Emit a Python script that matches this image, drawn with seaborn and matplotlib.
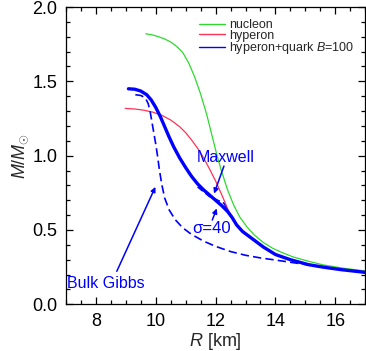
import numpy as np
import pandas as pd
import matplotlib
matplotlib.use("Agg")
import matplotlib.pyplot as plt
import seaborn as sns

sns.set_theme(style="ticks")
plt.rcParams["font.family"] = ["Liberation Sans", "DejaVu Sans"]
plt.rcParams["mathtext.fontset"] = "custom"
plt.rcParams["mathtext.it"] = "Liberation Sans:italic"
plt.rcParams["mathtext.rm"] = "Liberation Sans"

# nucleon (green)
nuc_r = [9.67, 9.9, 10.1, 10.3, 10.5, 10.7, 10.9, 11.1, 11.3, 11.5, 11.7, 11.9, 12.05, 12.2,
         12.4, 12.6, 12.8, 13.05, 13.3, 13.6, 13.9, 14.2, 14.6, 15.1, 15.6, 16.2, 17.0]
nuc_m = [1.820, 1.812, 1.800, 1.785, 1.765, 1.735, 1.695, 1.625, 1.530, 1.415, 1.280, 1.120, 1.000, 0.895,
         0.770, 0.670, 0.590, 0.520, 0.465, 0.415, 0.378, 0.350, 0.318, 0.290, 0.265, 0.245, 0.224]

# hyperon (red)
hyp_r = [8.98, 9.3, 9.6, 9.9, 10.2, 10.5, 10.8, 11.0, 11.2, 11.4, 11.6, 11.8, 12.0, 12.2, 12.4,
         12.55, 12.7, 12.9, 13.2, 13.6, 14.0, 14.5, 15.1, 15.6, 16.2, 17.0]
hyp_m = [1.318, 1.314, 1.306, 1.293, 1.272, 1.240, 1.195, 1.155, 1.105, 1.050, 0.985, 0.910, 0.830, 0.740, 0.645,
         0.580, 0.535, 0.490, 0.445, 0.385, 0.335, 0.300, 0.267, 0.250, 0.233, 0.215]

# hyperon+quark, sigma=40 (thick blue)
hq_r = [9.09, 9.3, 9.5, 9.7, 9.85, 10.0, 10.15, 10.3, 10.45, 10.6, 10.8, 11.0, 11.2, 11.4, 11.6,
        11.8, 12.0, 12.2, 12.4, 12.55, 12.7, 12.9, 13.2, 13.6, 14.0, 14.5, 15.1, 15.6, 16.2, 17.0]
hq_m = [1.450, 1.447, 1.435, 1.410, 1.375, 1.325, 1.265, 1.195, 1.125, 1.060, 0.985, 0.920, 0.860, 0.810, 0.770,
        0.735, 0.700, 0.665, 0.625, 0.585, 0.535, 0.490, 0.445, 0.385, 0.335, 0.300, 0.267, 0.250, 0.233, 0.215]

# bulk Gibbs (dashed blue)
gibbs_r = [9.32, 9.5, 9.65, 9.75, 9.82, 9.88, 9.94, 10.0, 10.06, 10.12, 10.2, 10.3, 10.45, 10.65,
           10.9, 11.2, 11.6, 12.0, 12.5, 13.0, 13.5, 14.0, 14.5, 15.0, 15.5]
gibbs_m = [1.410, 1.405, 1.390, 1.350, 1.290, 1.220, 1.150, 1.080, 1.000, 0.910, 0.810, 0.715, 0.635, 0.570,
           0.515, 0.470, 0.425, 0.390, 0.355, 0.330, 0.312, 0.298, 0.283, 0.268, 0.252]

# Maxwell (dashed part, then thin solid part)
maxd_r = [11.4, 11.8, 12.28]
maxd_m = [0.79, 0.725, 0.68]
maxs_r = [12.28, 12.5]
maxs_m = [0.68, 0.59]

GREEN = "#2fd82f"
RED = "#ff3355"
BLUE = "#0000ff"

fig, ax = plt.subplots(figsize=(3.66, 3.51), dpi=100)
fig.subplots_adjust(left=0.180, right=0.998, bottom=0.133, top=0.980)

df = pd.concat([
    pd.DataFrame({"R": nuc_r, "M": nuc_m, "eos": "nucleon"}),
    pd.DataFrame({"R": hyp_r, "M": hyp_m, "eos": "hyperon"}),
])
sns.lineplot(data=df, x="R", y="M", hue="eos", palette={"nucleon": GREEN, "hyperon": RED},
             sort=False, estimator=None, lw=0.9, ax=ax, legend=False)
sns.lineplot(x=hq_r, y=hq_m, sort=False, estimator=None, color=BLUE, lw=2.4, ax=ax)
sns.lineplot(x=gibbs_r, y=gibbs_m, sort=False, estimator=None, color=BLUE, lw=1.2, ax=ax)
ax.lines[-1].set_dashes([5, 2.5])
sns.lineplot(x=maxd_r, y=maxd_m, sort=False, estimator=None, color=BLUE, lw=1.2, ax=ax)
ax.lines[-1].set_dashes([4, 2])
sns.lineplot(x=maxs_r, y=maxs_m, sort=False, estimator=None, color=BLUE, lw=1.0, ax=ax)

# legend proxies
h1, = ax.plot([], [], color=GREEN, lw=1.0, label="nucleon")
h2, = ax.plot([], [], color=RED, lw=1.0, label="hyperon")
h3, = ax.plot([], [], color=BLUE, lw=1.0, label="hyperon+quark $B$=100")
ax.legend(handles=[h1, h2, h3], loc="upper left", bbox_to_anchor=(0.445, 0.96),
          frameon=False, fontsize=9.0, handlelength=2.1, handletextpad=0.3,
          labelspacing=-0.1, borderpad=0, borderaxespad=0)

arrow = dict(arrowstyle="-|>", color=BLUE, lw=1.1, mutation_scale=7, shrinkA=0, shrinkB=0)
ax.text(12.33, 0.985, "Maxwell", color=BLUE, fontsize=11.5, ha="center", va="center")
ax.annotate("", xy=(11.95, 0.745), xytext=(12.28, 0.93), arrowprops=arrow)
ax.annotate("", xy=(12.04, 0.645), xytext=(11.89, 0.567), arrowprops=arrow)
ax.text(11.86, 0.507, "σ=40", color=BLUE, fontsize=12, ha="center", va="center")
ax.text(7.03, 0.14, "Bulk Gibbs", color=BLUE, fontsize=11.5, ha="left", va="center")
ax.annotate("", xy=(9.99, 0.79), xytext=(8.70, 0.222), arrowprops=arrow)

ax.set_xlim(7, 17)
ax.set_ylim(0, 2.0)
ax.set_xticks([8, 10, 12, 14, 16])
ax.set_yticks([0.0, 0.5, 1.0, 1.5, 2.0])
ax.set_yticklabels(["0.0", "0.5", "1.0", "1.5", "2.0"])
ax.xaxis.set_minor_locator(matplotlib.ticker.MultipleLocator(0.5))
ax.yaxis.set_minor_locator(matplotlib.ticker.MultipleLocator(0.1))
ax.tick_params(which="both", direction="in", top=True, right=True, colors="black",
               labelsize=13, pad=6)
ax.tick_params(which="major", length=5, width=0.9)
ax.tick_params(which="minor", length=2.8, width=0.9)
for s in ax.spines.values():
    s.set_color("black")
    s.set_linewidth(0.9)
ax.set_xlabel("$R$ [km]", fontsize=13, labelpad=1)
ax.set_ylabel(r"$M/M_{\odot}$", fontsize=13, labelpad=2)

fig.savefig("out.png", dpi=100)
